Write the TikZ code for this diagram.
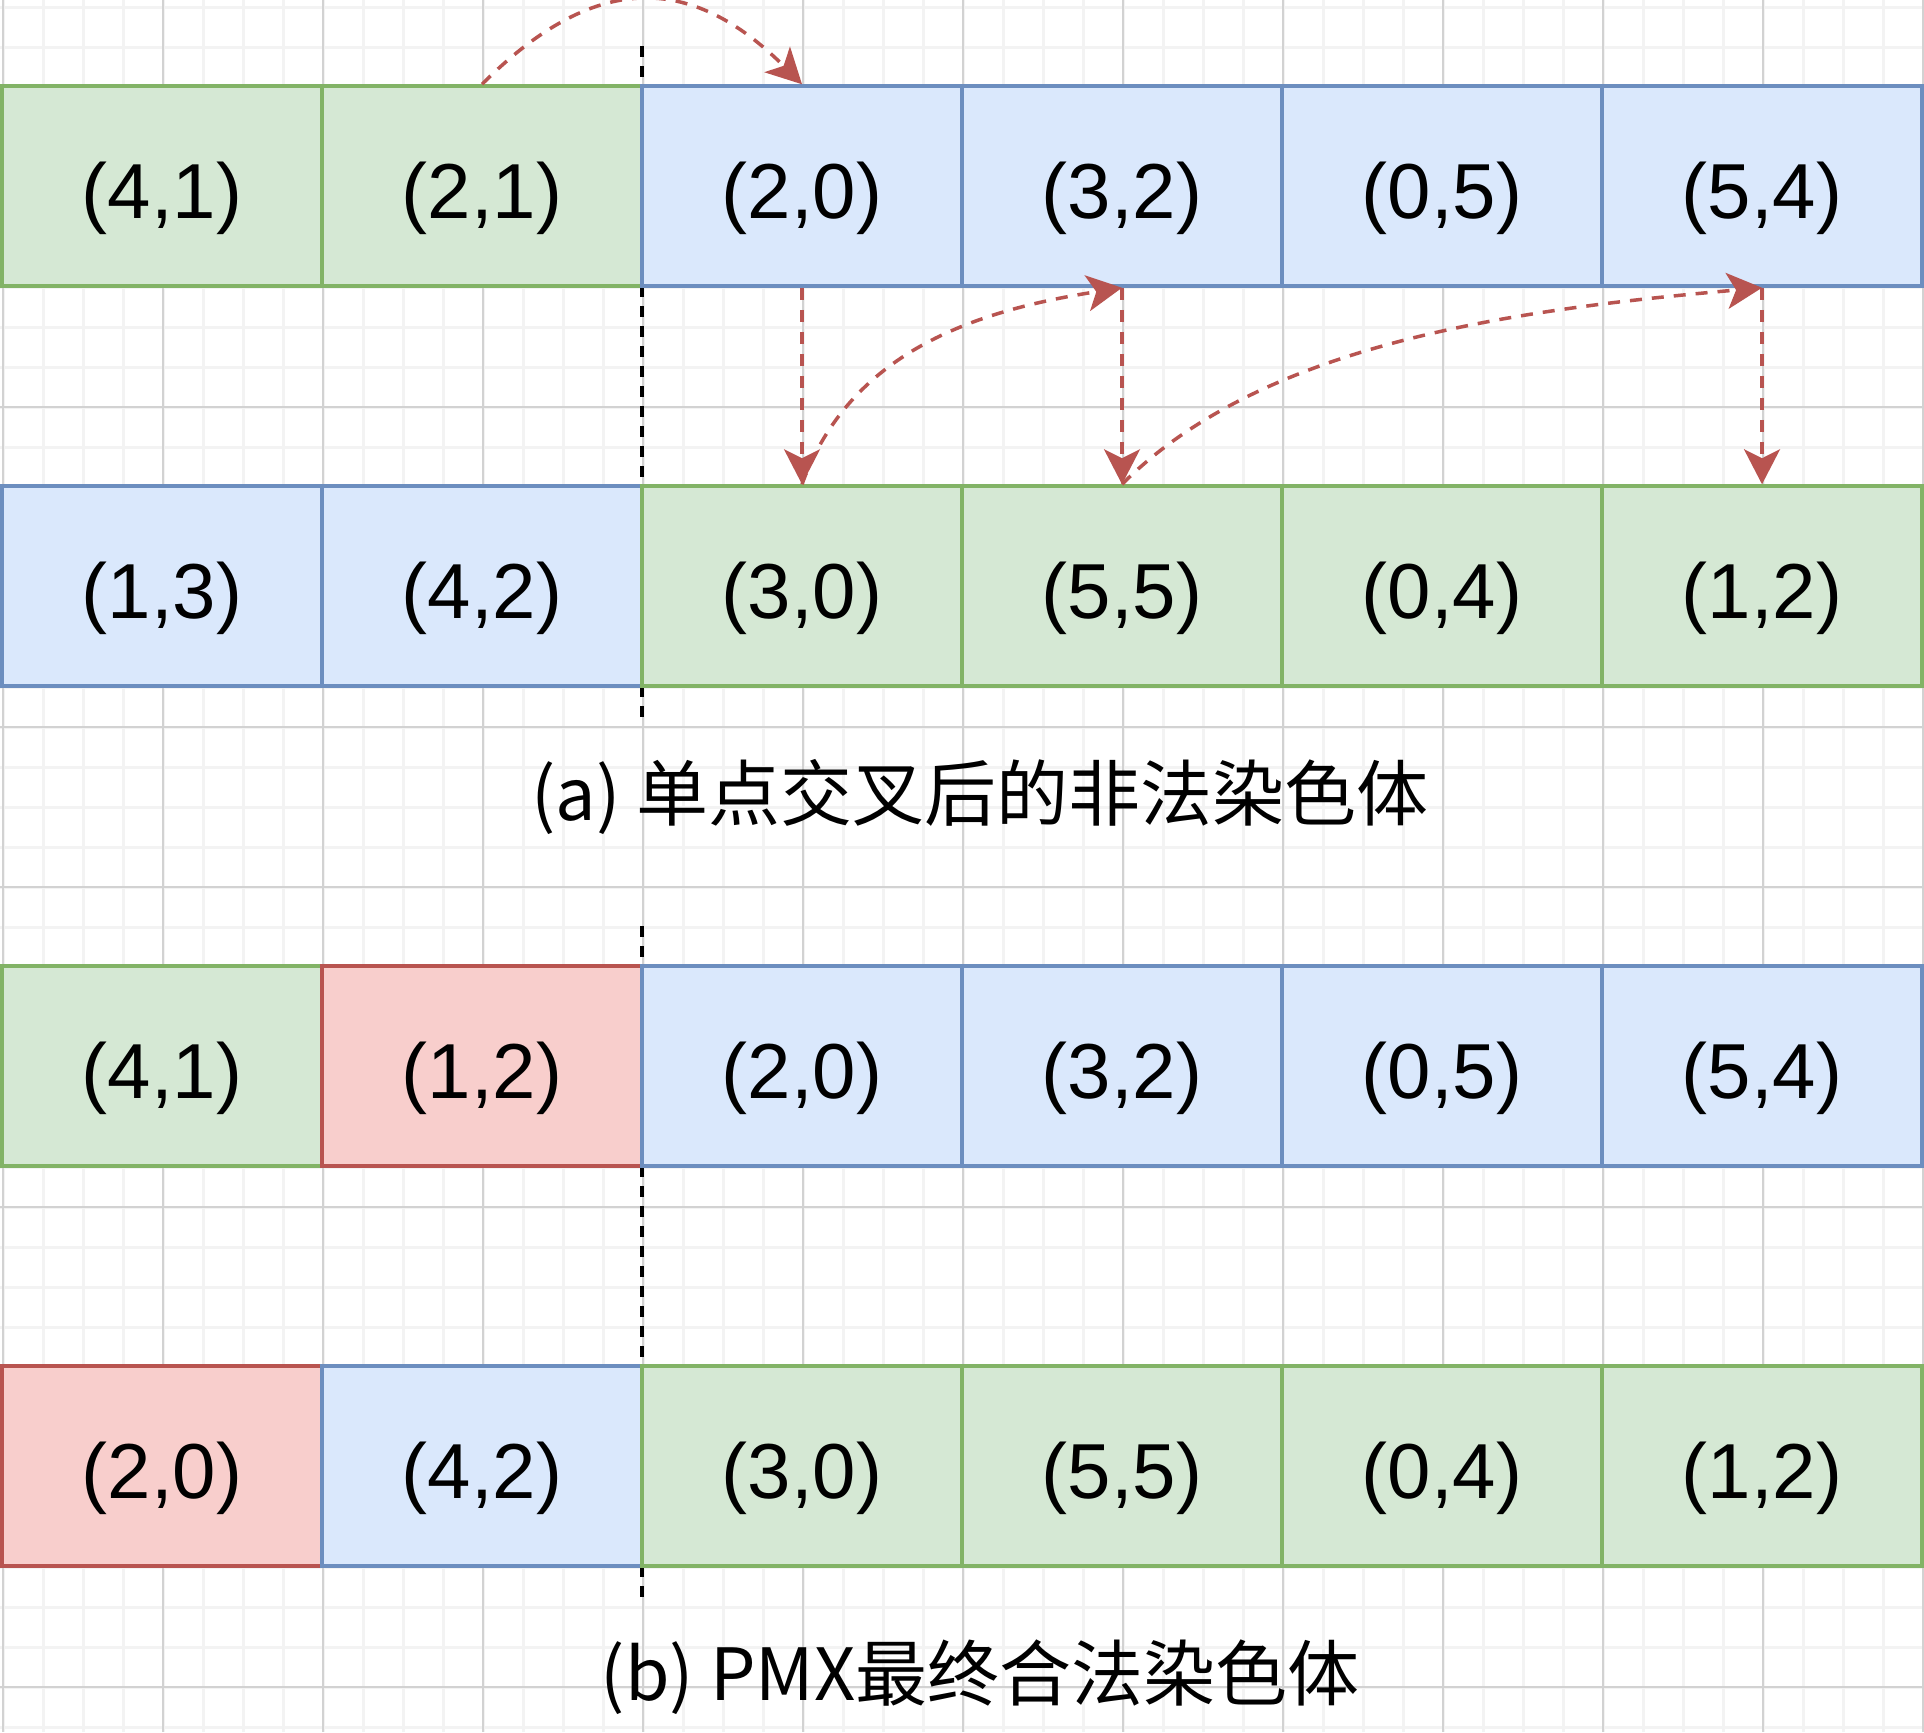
\documentclass[tikz,border=0pt]{standalone}
\usepackage{fontspec}
\setmainfont{Liberation Sans}
\newfontfamily\cjkfont{Noto Sans CJK SC}
\usetikzlibrary{arrows.meta}
\definecolor{gfill}{HTML}{D5E8D4}
\definecolor{gdraw}{HTML}{82B366}
\definecolor{bfill}{HTML}{DAE8FC}
\definecolor{bdraw}{HTML}{6C8EBF}
\definecolor{rfill}{HTML}{F8CECC}
\definecolor{rdraw}{HTML}{B85450}
\definecolor{gridminor}{HTML}{F3F3F3}
\definecolor{gridmajor}{HTML}{D2D2D2}
\tikzset{
  cell/.style={rectangle, minimum width=320pt, minimum height=200pt, inner sep=0pt,
    line width=3.5pt, font=\fontsize{78}{78}\selectfont, text height=64pt, text depth=0pt},
  gcell/.style={cell, draw=gdraw, fill=gfill},
  bcell/.style={cell, draw=bdraw, fill=bfill},
  rcell/.style={cell, draw=rdraw, fill=rfill},
  link/.style={draw=rdraw, line width=3.5pt, dash pattern=on 12pt off 10pt,
    -{Stealth[length=35pt,width=36pt,inset=9pt]}},
  cutline/.style={draw=black, line width=3.5pt, dash pattern=on 11pt off 9pt},
  caption/.style={anchor=base, inner sep=0pt, font=\cjkfont\fontsize{72}{72}\selectfont},
  minorline/.style={draw=gridminor, line width=3pt},
  majorline/.style={draw=gridmajor, line width=2pt},
}
\begin{document}
\begin{tikzpicture}[x=1pt, y=-1pt]
\path[use as bounding box, fill=white] (0,0) rectangle (1924,1732);
% grid
\foreach \k in {0,...,43} \draw[minorline] (0,7+40*\k) -- (1924,7+40*\k);
\foreach \k in {0,...,48} \draw[minorline] (3+40*\k,0) -- (3+40*\k,1732);
\foreach \k in {0,...,10} \draw[majorline] (0,87+160*\k) -- (1924,87+160*\k);
\foreach \k in {0,...,12} \draw[majorline] (3+160*\k,0) -- (3+160*\k,1732);
% crossover cut lines
\coordinate (cutA1) at (642,46);
\coordinate (cutA2) at (642,725);
\coordinate (cutB1) at (642,926);
\coordinate (cutB2) at (642,1606);
\draw[cutline] (cutA1) -- (cutA2);
\draw[cutline] (cutB1) -- (cutB2);
% row 1
\node[gcell] (a1) at (162,186) {(4,1)};
\node[gcell] (a2) at (482,186) {(2,1)};
\node[bcell] (a3) at (802,186) {(2,0)};
\node[bcell] (a4) at (1122,186) {(3,2)};
\node[bcell] (a5) at (1442,186) {(0,5)};
\node[bcell] (a6) at (1762,186) {(5,4)};
% row 2
\node[bcell] (b1) at (162,586) {(1,3)};
\node[bcell] (b2) at (482,586) {(4,2)};
\node[gcell] (b3) at (802,586) {(3,0)};
\node[gcell] (b4) at (1122,586) {(5,5)};
\node[gcell] (b5) at (1442,586) {(0,4)};
\node[gcell] (b6) at (1762,586) {(1,2)};
% row 3
\node[gcell] (c1) at (162,1066) {(4,1)};
\node[rcell] (c2) at (482,1066) {(1,2)};
\node[bcell] (c3) at (802,1066) {(2,0)};
\node[bcell] (c4) at (1122,1066) {(3,2)};
\node[bcell] (c5) at (1442,1066) {(0,5)};
\node[bcell] (c6) at (1762,1066) {(5,4)};
% row 4
\node[rcell] (d1) at (162,1466) {(2,0)};
\node[bcell] (d2) at (482,1466) {(4,2)};
\node[gcell] (d3) at (802,1466) {(3,0)};
\node[gcell] (d4) at (1122,1466) {(5,5)};
\node[gcell] (d5) at (1442,1466) {(0,4)};
\node[gcell] (d6) at (1762,1466) {(1,2)};
% mapping arrows
\draw[link] (a2.north) .. controls +(112,-112) and +(-112,-112) .. (a3.north);
\draw[link] (a3.south) -- (b3.north);
\draw[link] (b3.north) .. controls +(48,-132) and +(-148,23) .. (a4.south);
\draw[link] (a4.south) -- (b4.north);
\draw[link] (b4.north) .. controls +(141,-141) and +(-249,22) .. (a6.south);
\draw[link] (a6.south) -- (b6.north);
% captions
\node[caption] (capA) at (980,820) {(a) 单点交叉后的非法染色体};
\node[caption] (capB) at (980,1700) {(b) PMX最终合法染色体};
\end{tikzpicture}
\end{document}
